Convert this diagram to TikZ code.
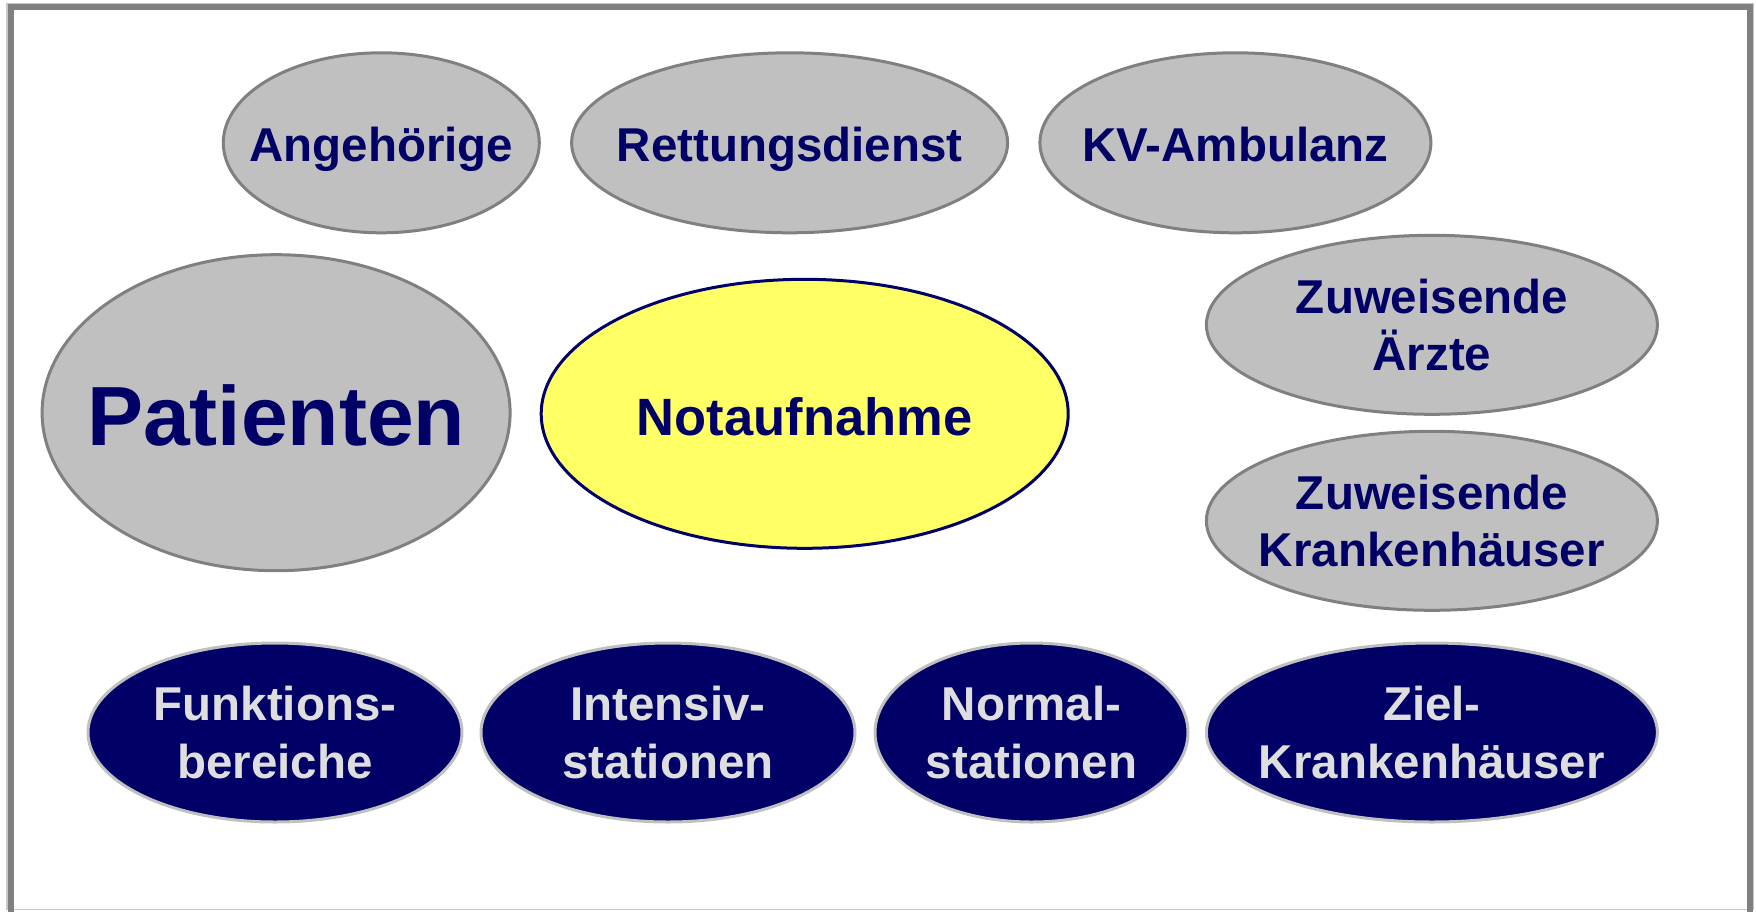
\documentclass[tikz,border=0pt]{standalone}
\usepackage{fontspec}
\setmainfont{Liberation Sans}
\usetikzlibrary{shapes.geometric}
\definecolor{frameGray}{HTML}{808080}
\definecolor{frameLight}{HTML}{C8C8C8}
\definecolor{cloudGray}{HTML}{C0C0C0}
\definecolor{edgeGray}{HTML}{808080}
\definecolor{deepNavy}{HTML}{000066}
\definecolor{lemon}{HTML}{FFFF66}
\definecolor{paleText}{HTML}{DEDEDE}
\begin{document}
\begin{tikzpicture}[x=1pt,y=-1pt,
  blob/.style={ellipse, inner sep=0pt, line width=3pt},
  party/.style={blob, fill=cloudGray, draw=edgeGray},
  hub/.style={blob, fill=lemon, draw=deepNavy},
  unit/.style={blob, fill=deepNavy, draw=cloudGray},
  darklabel/.style={text=deepNavy, font=\bfseries\fontsize{47.5}{56.7}\selectfont, align=center, inner sep=0pt},
  lightlabel/.style={text=paleText, font=\bfseries\fontsize{47.5}{58.3}\selectfont, align=center, inner sep=0pt},
  oneline/.style={anchor=base, yshift=-#1}]
\useasboundingbox (0,0) rectangle (1756,911);
\clip (0,0) rectangle (1756,911);
% outer frame
\draw[frameLight, line width=1.5pt] (7,3.5) rectangle (1753.5,909.5);
\draw[frameGray, line width=6pt] (11,7) rectangle (1749.5,930);

% top row
\node[party, minimum width=316pt, minimum height=180pt] (angeh) at (381.3,142.8) {};
\node[darklabel, oneline=19pt] (angeh-t) at (angeh) {Angehörige};
\node[party, minimum width=436pt, minimum height=180pt] (rett) at (789.6,142.8) {};
\node[darklabel, oneline=19pt] (rett-t) at (rett) {Rettungsdienst};
\node[party, minimum width=391pt, minimum height=180pt] (kv) at (1235.4,142.8) {};
\node[darklabel, oneline=19pt] (kv-t) at (kv) {KV-Ambulanz};

% right column
\node[party, minimum width=451pt, minimum height=179pt] (aerzte) at (1431.9,324.8) {};
\node[darklabel] (aerzte-t) at (aerzte) {Zuweisende\\Ärzte};
\node[party, minimum width=451pt, minimum height=179pt] (khs) at (1431.9,520.8) {};
\node[darklabel] (khs-t) at (khs) {Zuweisende\\Krankenhäuser};

% patients and emergency department
\node[party, minimum width=468pt, minimum height=316pt] (pat) at (276.1,412.7) {};
\node[darklabel, oneline=32.3pt, font=\bfseries\fontsize{84}{90}\selectfont] (pat-t) at (pat) {Patienten};
\node[hub, minimum width=527pt, minimum height=269pt] (nota) at (804.7,413.8) {};
\node[darklabel, oneline=21.2pt, font=\bfseries\fontsize{52.5}{60}\selectfont] (nota-t) at (nota) {Notaufnahme};

% bottom row
\node[unit, minimum width=374pt, minimum height=179pt] (funk) at (275,732.5) {};
\node[lightlabel] (funk-t) at (funk) {Funktions-\\bereiche};
\node[unit, minimum width=374pt, minimum height=179pt] (its) at (668,732.5) {};
\node[lightlabel] (its-t) at (its) {Intensiv-\\stationen};
\node[unit, minimum width=313pt, minimum height=179pt] (norm) at (1031.5,732.5) {};
\node[lightlabel] (norm-t) at (norm) {Normal-\\stationen};
\node[unit, minimum width=451pt, minimum height=179pt] (ziel) at (1431.9,732.5) {};
\node[lightlabel] (ziel-t) at (ziel) {Ziel-\\Krankenhäuser};
\end{tikzpicture}
\end{document}
